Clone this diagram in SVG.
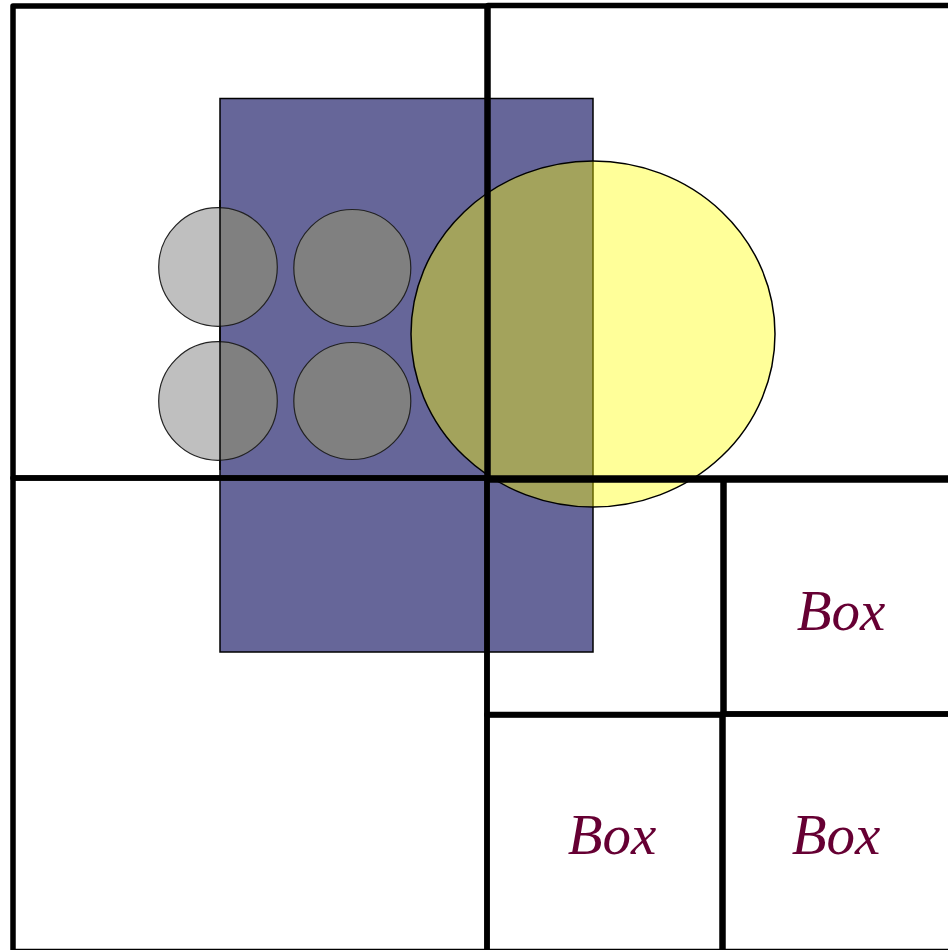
<svg xmlns="http://www.w3.org/2000/svg" width="948" height="950" viewBox="0 0 948 950">
<style>
.cell{fill:none;stroke:#000;stroke-width:5.5;stroke-linejoin:round}
.lbl{font-family:"Liberation Serif","Times New Roman",serif;font-style:italic;font-size:57px;fill:#660033;text-anchor:middle}
.dot{stroke:#222;stroke-width:1.2}
</style>
<defs>
<clipPath id="outsideBlue"><rect x="0" y="0" width="220" height="950"/></clipPath>
<clipPath id="insideBlue"><rect x="220" y="0" width="728" height="950"/></clipPath>
</defs>
<rect width="948" height="950" fill="#fff"/>
<g id="blue-rect">
<rect x="220" y="98.5" width="373" height="553.5" fill="#666699" stroke="#000" stroke-width="1.5"/>
</g>
<g id="gray-circles">
<g clip-path="url(#outsideBlue)">
<circle cx="218" cy="267" r="59.3" fill="#bfbfbf"/>
<circle cx="218" cy="401" r="59.3" fill="#bfbfbf"/>
</g>
<g clip-path="url(#insideBlue)">
<circle cx="218" cy="267" r="59.3" fill="#808080"/>
<circle cx="218" cy="401" r="59.3" fill="#808080"/>
</g>
<circle cx="218" cy="267" r="59.3" fill="none" class="dot"/>
<circle cx="218" cy="401" r="59.3" fill="none" class="dot"/>
<circle cx="352.3" cy="268" r="58.5" fill="#808080" class="dot"/>
<circle cx="352.3" cy="401" r="58.5" fill="#808080" class="dot"/>
<line x1="220" y1="200" x2="220" y2="470" stroke="#000" stroke-width="1.5"/>
</g>
<g id="yellow-ellipse">
<ellipse cx="593" cy="334" rx="182" ry="173" fill="#ffff00" fill-opacity="0.4" stroke="#000" stroke-width="1.5"/>
</g>
<g id="connectors">
<g id="quad-tl"><rect class="cell" x="13" y="6" width="474" height="472"/></g>
<g id="quad-tr"><rect class="cell" x="488" y="5.5" width="480" height="472.5"/></g>
<g id="quad-bl"><rect class="cell" x="13" y="478" width="474" height="473.5"/></g>
<g id="box-empty"><rect class="cell" x="487" y="480" width="236" height="235"/></g>
<g id="box-1"><rect class="cell" x="724" y="480" width="240" height="234"/></g>
<g id="box-2"><rect class="cell" x="487" y="714.5" width="236" height="237"/></g>
<g id="box-3"><rect class="cell" x="722" y="714" width="240" height="237.5"/></g>
</g>
<g id="labels">
<text class="lbl" x="841" y="630">Box</text>
<text class="lbl" x="612" y="854">Box</text>
<text class="lbl" x="836" y="854">Box</text>
</g>
</svg>
